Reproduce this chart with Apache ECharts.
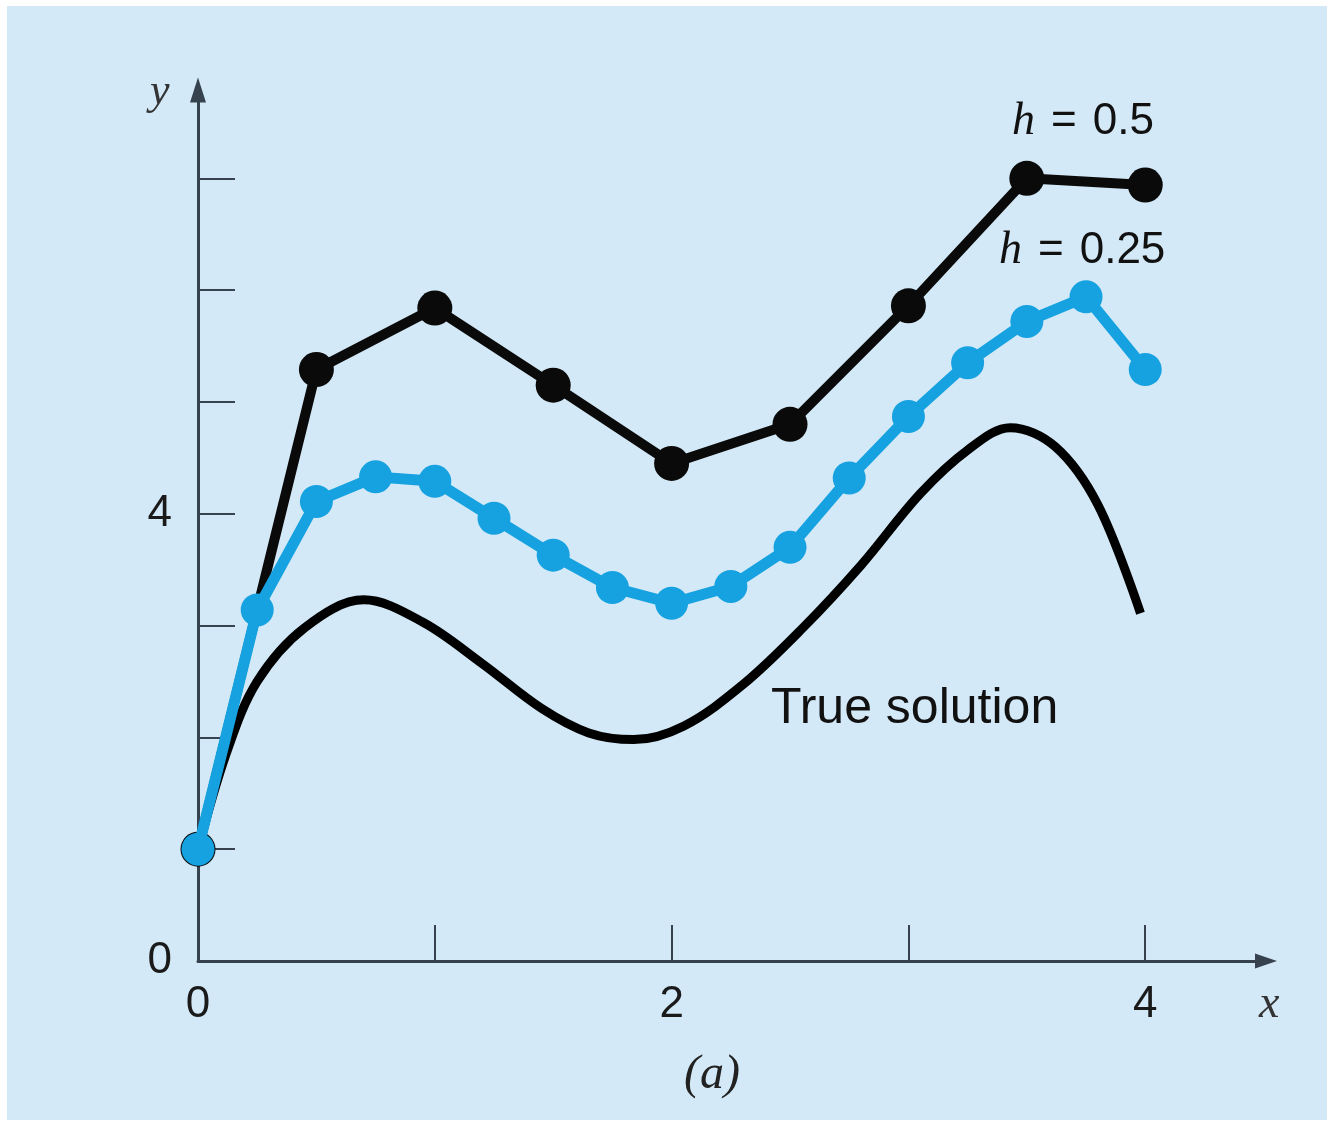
<!DOCTYPE html>
<html>
<head>
<meta charset="utf-8">
<script src="https://cdn.jsdelivr.net/npm/echarts@6/dist/echarts.min.js"></script>
<style>
html,body{margin:0;padding:0;background:#ffffff;}
#chart{width:1340px;height:1126px;}
</style>
</head>
<body>
<div id="chart"></div>
<script>
// Euler's method, step h = 0.5
const xH05 = [0, 0.5, 1, 1.5, 2, 2.5, 3, 3.5, 4];
const yH05 = [1, 5.29, 5.84, 5.15, 4.45, 4.80, 5.86, 7.00, 6.94];
// Euler's method, step h = 0.25
const xH025 = [0, 0.25, 0.5, 0.75, 1, 1.25, 1.5, 1.75, 2, 2.25, 2.5, 2.75, 3, 3.25, 3.5, 3.75, 4];
const yH025 = [1, 3.14, 4.11, 4.33, 4.29, 3.96, 3.63, 3.34, 3.20, 3.35, 3.70, 4.32, 4.87, 5.35, 5.72, 5.94, 5.29];
// True solution (incl. its turning points)
const xTrue = [0, 0.12, 0.25, 0.45, 0.7, 0.95, 1.2, 1.45, 1.65, 1.84, 2.05, 2.3, 2.55, 2.8, 3.05, 3.25, 3.43, 3.62, 3.8, 3.98];
const yTrue = [1, 1.86, 2.50, 2.98, 3.23, 3.03, 2.66, 2.26, 2.04, 1.98, 2.10, 2.47, 2.97, 3.54, 4.18, 4.57, 4.77, 4.60, 4.08, 3.11];
// Axis ticks and labels
const xTicks = [1, 2, 3, 4];
const xLabels = [0, 2, 4];
const yTicks = [1, 2, 3, 4, 5, 6, 7];
const yLabels = [0, 4];

const pairs = (xs, ys) => xs.map((x, i) => [x, ys[i]]);

const BG = '#d3e9f7';
const AX = '#36424d';
const BLUE = '#16a2e0';
const SANS = '"Liberation Sans", Arial, sans-serif';
const SERIF = '"Liberation Serif", "Times New Roman", serif';

const hRich = {
  i: { fontFamily: SERIF, fontStyle: 'italic', fontSize: 46, fill: '#111' },
  e: { fontFamily: SANS, fontSize: 44, fill: '#111', padding: [0, 16, 0, 16] }
};

const chart = echarts.init(document.getElementById('chart'));
chart.setOption({
  backgroundColor: '#ffffff',
  animation: false,
  grid: { left: 198, right: 74, top: 90, bottom: 165 },
  xAxis: {
    type: 'value', min: 0, max: 4.51, interval: 1,
    splitLine: { show: false },
    axisLine: { show: true, lineStyle: { color: AX, width: 3 }, symbol: ['none', 'triangle'], symbolSize: [15, 22] },
    axisTick: { show: true, inside: true, length: 36, lineStyle: { color: AX, width: 2 }, customValues: xTicks },
    axisLabel: { show: true, customValues: xLabels, margin: 22, fontSize: 44, fontFamily: SANS, color: '#1a1a1a' }
  },
  yAxis: {
    type: 'value', min: 0, max: 7.79, interval: 1,
    splitLine: { show: false },
    axisLine: { show: true, lineStyle: { color: AX, width: 3 }, symbol: ['none', 'triangle'], symbolSize: [16, 25] },
    axisTick: { show: true, inside: true, length: 37, lineStyle: { color: AX, width: 2 }, customValues: yTicks },
    axisLabel: { show: true, customValues: yLabels, margin: 26, fontSize: 44, fontFamily: SANS, color: '#1a1a1a' }
  },
  graphic: [
    { type: 'rect', z: -10, silent: true, shape: { x: 7, y: 6, width: 1320, height: 1114 }, style: { fill: BG } },
    { type: 'text', left: 150, top: 70, style: { text: 'y', font: 'italic 44px ' + SERIF, fill: '#333' } },
    { type: 'text', left: 1259, top: 982, style: { text: 'x', font: 'italic 46px ' + SERIF, fill: '#333' } },
    { type: 'text', left: 684, top: 1051, style: { text: '(a)', font: 'italic 48px ' + SERIF, fill: '#222' } },
    { type: 'text', left: 1012, top: 99, style: {
        text: '{i|h}{e|=}0.5', font: '44px ' + SANS, fill: '#111', rich: hRich
    } },
    { type: 'text', left: 999, top: 228, style: {
        text: '{i|h}{e|=}0.25', font: '44px ' + SANS, fill: '#111', rich: hRich
    } },
    { type: 'text', left: 771, top: 684, style: { text: 'True solution', font: '50px ' + SANS, fill: '#111' } }
  ],
  series: [
    {
      name: 'True solution', type: 'line', data: pairs(xTrue, yTrue), smooth: 0.35,
      showSymbol: false, lineStyle: { color: '#000', width: 9 }, z: 2
    },
    {
      name: 'h = 0.5', type: 'line', data: pairs(xH05, yH05),
      symbol: 'circle', symbolSize: 35, itemStyle: { color: '#0a0a0a' },
      lineStyle: { color: '#0a0a0a', width: 10 }, z: 3
    },
    {
      name: 'h = 0.25', type: 'line', data: pairs(xH025, yH025),
      symbol: 'circle', symbolSize: 33, itemStyle: { color: BLUE },
      lineStyle: { color: BLUE, width: 11 }, z: 4
    }
  ]
});
</script>
</body>
</html>
